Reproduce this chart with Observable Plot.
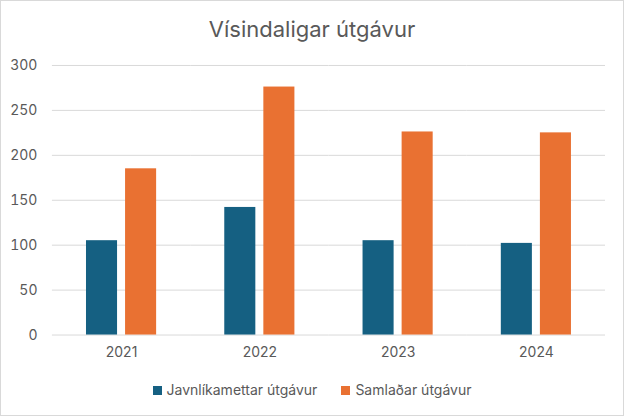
<!DOCTYPE html>
<html><head><meta charset="utf-8">
<script src="https://cdn.jsdelivr.net/npm/d3@7"></script>
<script src="https://cdn.jsdelivr.net/npm/@observablehq/plot@0.6"></script>
<style>
html,body{margin:0;padding:0;background:#fff;}
#chart{box-sizing:border-box;width:624px;height:416px;border:1px solid #d9d9d9;position:relative;font-family:Inter,"Open Sans",sans-serif;color:#595959;overflow:hidden;}
#title{position:absolute;top:14px;left:0;width:100%;text-align:center;font-size:22px;line-height:28px;}
#plot{position:absolute;top:49px;left:-1px;}
#legend{position:absolute;top:380px;left:0;width:100%;display:flex;justify-content:center;gap:24px;font-size:14px;line-height:18px;}
#legend .item{display:flex;align-items:center;gap:5px;}
#legend .sw{width:9px;height:9px;display:inline-block;}
</style></head>
<body>
<div id="chart">
  <div id="title">Vísindaligar útgávur</div>
  <div id="plot"></div>
  <div id="legend"></div>
</div>
<script>
const years = ["2021", "2022", "2023", "2024"];
const seriesNames = ["Javnlíkamettar útgávur", "Samlaðar útgávur"];
const peerReviewed = [105, 142, 105, 102];
const total = [185, 276, 226, 225];
const yTicks = [0, 50, 100, 150, 200, 250, 300];
const colors = ["#156082", "#E97132"];

const data = [];
years.forEach((y, i) => {
  data.push({year: y, series: seriesNames[0], value: peerReviewed[i]});
  data.push({year: y, series: seriesNames[1], value: total[i]});
});

const chart = Plot.plot({
  width: 624,
  height: 320,
  marginLeft: 52,
  marginRight: 18,
  marginTop: 15,
  marginBottom: 35,
  style: {fontSize: "14px", fontFamily: "Inter, 'Open Sans', sans-serif", color: "#595959", background: "transparent"},
  fx: {domain: years, padding: 0, round: false, label: null, tickSize: 0, tickPadding: 12},
  x: {domain: seriesNames, axis: null, round: false, paddingInner: 0.205, paddingOuter: 0.872},
  y: {domain: [0, 300], ticks: yTicks, tickSize: 0, tickPadding: 15, label: null},
  color: {domain: seriesNames, range: colors},
  marks: [
    Plot.gridY(yTicks, {stroke: "#d9d9d9", strokeOpacity: 1}),
    Plot.barY(data, {fx: "year", x: "series", y: "value", fill: "series"})
  ]
});
document.getElementById("plot").appendChild(chart);

const legend = document.getElementById("legend");
seriesNames.forEach((s, i) => {
  const item = document.createElement("div");
  item.className = "item";
  const sw = document.createElement("span");
  sw.className = "sw";
  sw.style.background = colors[i];
  const t = document.createElement("span");
  t.textContent = s;
  item.appendChild(sw);
  item.appendChild(t);
  legend.appendChild(item);
});
</script>
</body></html>
